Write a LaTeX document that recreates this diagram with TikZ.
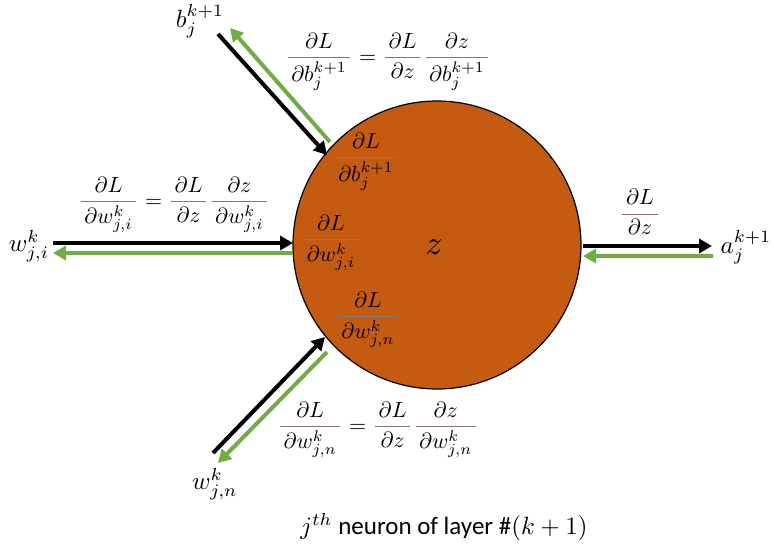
\documentclass[tikz,border=0pt]{standalone}
\usepackage{amsmath}
\usepackage{fontspec}
\setmainfont{Carlito}
\usetikzlibrary{arrows.meta}
\definecolor{neuron}{HTML}{C55A11}
\definecolor{grad}{HTML}{70AD47}
\definecolor{barA}{HTML}{8B7373}
\definecolor{barB}{HTML}{7F7F7F}
\newcommand{\bfr}[3]{{\color{#1}\genfrac{}{}{0.45pt}{0}{\,\color{black}#2\,}{\,\color{black}#3\,}}}
\tikzset{
  fwd/.style={draw=black, line width=4pt, -{Triangle[length=13pt,width=14pt]}},
  bwd/.style={draw=grad, line width=4pt, -{Triangle[length=13pt,width=14pt]}},
  lbl/.style={font=\fontsize{10}{12}\selectfont, inner sep=0pt, scale=2.2},
  varlbl/.style={font=\fontsize{10}{12}\selectfont, inner sep=0pt, scale=2.5},
}
\begin{document}
\begin{tikzpicture}[x=1pt,y=-1pt]
\useasboundingbox (0,0) rectangle (774,550);
\node[circle, fill=neuron, draw=black, line width=1.2pt, minimum size=288pt, inner sep=0pt] (c) at (437,245) {};
\node[font=\fontsize{10}{12}\selectfont, inner sep=0pt, scale=3.4] (z) at (434,247) {$z$};

% endpoints
\coordinate (bT) at (218,34);   \coordinate (bH) at (327,155);
\coordinate (gbT) at (330,142); \coordinate (gbH) at (230,28);
\coordinate (wT) at (53,243);   \coordinate (wH) at (293,243);
\coordinate (gwT) at (293,253); \coordinate (gwH) at (53,253);
\coordinate (aT) at (583,246);  \coordinate (aH) at (712,246);
\coordinate (gaT) at (713,256); \coordinate (gaH) at (583,256);
\coordinate (nT) at (213,453);  \coordinate (nH) at (325,337);
\coordinate (gnT) at (327,352); \coordinate (gnH) at (218,463);

\draw[fwd] (bT) -- (bH);
\draw[bwd] (gbT) -- (gbH);
\draw[fwd] (wT) -- (wH);
\draw[bwd] (gwT) -- (gwH);
\draw[fwd] (aT) -- (aH);
\draw[bwd] (gaT) -- (gaH);
\draw[fwd] (nT) -- (nH);
\draw[bwd] (gnT) -- (gnH);

% variable labels
\node[varlbl] (lb) at (200,21) {$b_j^{k+1}$};
\node[varlbl] (lw) at (29,246) {$w_{j,i}^{k}$};
\node[varlbl] (la) at (746,247) {$a_j^{k+1}$};
\node[varlbl] (ln) at (215,484) {$w_{j,n}^{k}$};

% equations outside
\node[lbl] (eb) at (388,62) {$\bfr{barA}{\partial L}{\partial b_j^{k+1}} = \bfr{barA}{\partial L}{\partial z}\bfr{barA}{\partial z}{\partial b_j^{k+1}}$};
\node[lbl] (ew) at (174,205) {$\bfr{barA}{\partial L}{\partial w_{j,i}^{k}} = \bfr{barA}{\partial L}{\partial z}\bfr{barA}{\partial z}{\partial w_{j,i}^{k}}$};
\node[lbl] (ea) at (640,212) {$\bfr{barA}{\partial L}{\partial z}$};
\node[lbl] (en) at (378,430) {$\bfr{barA}{\partial L}{\partial w_{j,n}^{k}} = \bfr{barA}{\partial L}{\partial z}\bfr{barA}{\partial z}{\partial w_{j,n}^{k}}$};

% fractions inside the neuron
\node[lbl] (ib) at (366,162) {$\bfr{barB}{\partial L}{\partial b_j^{k+1}}$};
\node[lbl] (iw) at (331,243) {$\bfr{barB}{\partial L}{\partial w_{j,i}^{k}}$};
\node[lbl] (in) at (368,320) {$\bfr{barB}{\partial L}{\partial w_{j,n}^{k}}$};

\node[font=\fontsize{10}{12}\selectfont, inner sep=0pt, scale=2.5] (cap) at (444,527) {$j^{th}$ neuron of layer \#$(k+1)$};
\end{tikzpicture}
\end{document}
